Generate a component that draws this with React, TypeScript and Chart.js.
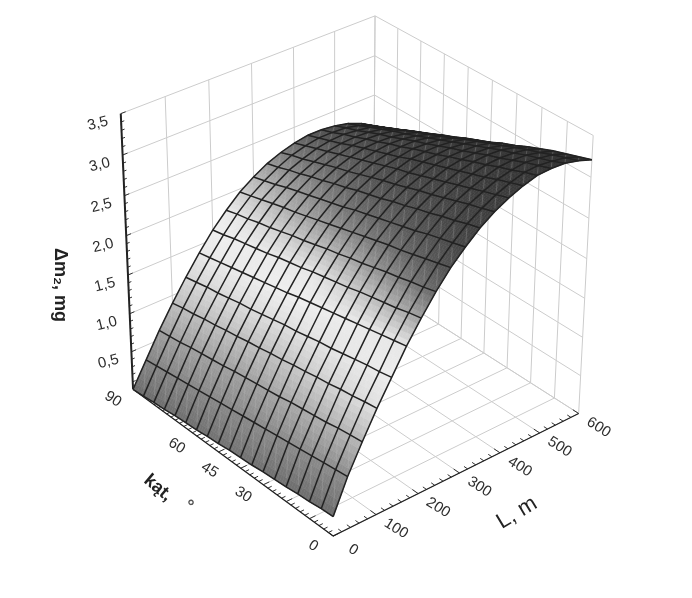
import React, { useEffect, useRef } from "react";
import { Chart, registerables } from "chart.js";

Chart.register(...registerables);

const lengths = [0, 33.3, 66.7, 100, 133.3, 166.7, 200, 233.3, 266.7, 300, 333.3, 366.7, 400, 433.3, 466.7, 500, 533.3, 566.7, 600];
const angles = [0, 5, 10, 15, 20, 25, 30, 35, 40, 45, 50, 55, 60, 65, 70, 75, 80, 85, 90];

// one row per length, one value per angle
const massGain = [
  [0.25, 0.24, 0.22, 0.21, 0.19, 0.18, 0.17, 0.15, 0.14, 0.13, 0.11, 0.10, 0.08, 0.07, 0.06, 0.04, 0.03, 0.01, 0],
  [0.67, 0.65, 0.63, 0.61, 0.59, 0.57, 0.55, 0.53, 0.51, 0.49, 0.47, 0.45, 0.43, 0.41, 0.39, 0.37, 0.35, 0.33, 0.31],
  [1.02, 1.00, 0.98, 0.95, 0.93, 0.91, 0.89, 0.86, 0.84, 0.82, 0.80, 0.78, 0.75, 0.73, 0.71, 0.69, 0.66, 0.64, 0.62],
  [1.35, 1.33, 1.30, 1.28, 1.25, 1.23, 1.20, 1.18, 1.15, 1.13, 1.10, 1.08, 1.05, 1.03, 1.00, 0.98, 0.95, 0.93, 0.90],
  [1.65, 1.62, 1.60, 1.57, 1.54, 1.51, 1.49, 1.46, 1.43, 1.41, 1.38, 1.35, 1.32, 1.30, 1.27, 1.24, 1.22, 1.19, 1.16],
  [1.95, 1.92, 1.89, 1.86, 1.83, 1.80, 1.77, 1.74, 1.71, 1.68, 1.64, 1.61, 1.58, 1.55, 1.52, 1.49, 1.46, 1.43, 1.40],
  [2.21, 2.18, 2.14, 2.11, 2.08, 2.05, 2.01, 1.98, 1.95, 1.92, 1.88, 1.85, 1.82, 1.78, 1.75, 1.72, 1.69, 1.65, 1.62],
  [2.45, 2.41, 2.38, 2.34, 2.31, 2.27, 2.23, 2.20, 2.16, 2.13, 2.09, 2.05, 2.02, 1.98, 1.94, 1.91, 1.87, 1.84, 1.80],
  [2.66, 2.62, 2.58, 2.54, 2.50, 2.47, 2.43, 2.39, 2.35, 2.31, 2.27, 2.23, 2.19, 2.15, 2.12, 2.08, 2.04, 2.00, 1.96],
  [2.83, 2.79, 2.75, 2.71, 2.66, 2.62, 2.58, 2.54, 2.50, 2.46, 2.41, 2.37, 2.33, 2.29, 2.25, 2.21, 2.16, 2.12, 2.08],
  [2.98, 2.94, 2.89, 2.85, 2.80, 2.76, 2.71, 2.67, 2.62, 2.58, 2.54, 2.49, 2.45, 2.40, 2.36, 2.31, 2.27, 2.22, 2.18],
  [3.10, 3.05, 3.01, 2.96, 2.91, 2.86, 2.82, 2.77, 2.72, 2.68, 2.63, 2.58, 2.53, 2.49, 2.44, 2.39, 2.34, 2.30, 2.25],
  [3.19, 3.14, 3.09, 3.04, 2.99, 2.94, 2.89, 2.84, 2.79, 2.75, 2.70, 2.65, 2.60, 2.55, 2.50, 2.45, 2.40, 2.35, 2.30],
  [3.26, 3.21, 3.16, 3.10, 3.05, 3.00, 2.95, 2.90, 2.85, 2.80, 2.74, 2.69, 2.64, 2.59, 2.54, 2.48, 2.43, 2.38, 2.33],
  [3.31, 3.26, 3.20, 3.15, 3.09, 3.04, 2.98, 2.93, 2.87, 2.82, 2.77, 2.71, 2.66, 2.60, 2.55, 2.49, 2.44, 2.38, 2.33],
  [3.32, 3.27, 3.22, 3.16, 3.10, 3.05, 2.99, 2.93, 2.88, 2.82, 2.76, 2.71, 2.65, 2.59, 2.54, 2.48, 2.42, 2.37, 2.31],
  [3.31, 3.25, 3.20, 3.15, 3.09, 3.04, 2.98, 2.92, 2.86, 2.80, 2.74, 2.68, 2.62, 2.56, 2.51, 2.45, 2.39, 2.33, 2.27],
  [3.27, 3.22, 3.17, 3.11, 3.06, 3.00, 2.94, 2.88, 2.82, 2.76, 2.69, 2.63, 2.57, 2.51, 2.45, 2.38, 2.32, 2.26, 2.20],
  [3.21, 3.16, 3.11, 3.06, 3.00, 2.94, 2.87, 2.81, 2.74, 2.68, 2.62, 2.55, 2.49, 2.42, 2.36, 2.29, 2.23, 2.16, 2.10],
];

const zTickLabels = ["0,5", "1,0", "1,5", "2,0", "2,5", "3,0", "3,5"];
const zTicks = [0.5, 1, 1.5, 2, 2.5, 3, 3.5];
const lTicks = [0, 100, 200, 300, 400, 500, 600];
const angleTickLabels = [90, 60, 45, 30, 0];
const angleGrid = [0, 10, 20, 30, 40, 50, 60, 70, 80, 90];

// surface brightness read per length row, at angle 0, 45 and 90
const shadeAt0 = [0.42, 0.55, 0.72, 0.88, 0.93, 0.9, 0.62, 0.4, 0.31, 0.27, 0.25, 0.24, 0.23, 0.22, 0.21, 0.2, 0.2, 0.2, 0.2];
const shadeAt45 = [0.45, 0.54, 0.63, 0.75, 0.87, 0.94, 0.9, 0.72, 0.54, 0.43, 0.36, 0.31, 0.28, 0.25, 0.24, 0.23, 0.22, 0.21, 0.2];
const shadeAt90 = [0.42, 0.52, 0.62, 0.74, 0.84, 0.91, 0.94, 0.92, 0.82, 0.72, 0.6, 0.5, 0.43, 0.35, 0.32, 0.28, 0.25, 0.22, 0.2];

// box corners as seen in the picture: [L/600, angle/90, z/3.5, px, py]
const boxCorners = [
  [0, 0, 0, 333, 537],
  [1, 0, 0, 579, 412],
  [0, 1, 0, 133, 388],
  [1, 1, 0, 373, 284],
  [0, 1, 1, 121, 114],
  [1, 1, 1, 375, 15],
  [1, 0, 1, 593, 136],
];

function solve(A: number[][], b: number[]): number[] {
  const n = b.length;
  const M = A.map((r, i) => [...r, b[i]]);
  for (let i = 0; i < n; i++) {
    let p = i;
    for (let r = i + 1; r < n; r++) if (Math.abs(M[r][i]) > Math.abs(M[p][i])) p = r;
    [M[i], M[p]] = [M[p], M[i]];
    for (let r = 0; r < n; r++) {
      if (r === i) continue;
      const f = M[r][i] / M[i][i];
      for (let c = i; c <= n; c++) M[r][c] -= f * M[i][c];
    }
  }
  return M.map((r, i) => r[n] / r[i]);
}

function fitCamera(): number[] {
  const rows: number[][] = [];
  const rhs: number[] = [];
  for (const [X, Y, Z, u, v] of boxCorners) {
    rows.push([X, Y, Z, 1, 0, 0, 0, 0, -u * X, -u * Y, -u * Z]);
    rhs.push(u);
    rows.push([0, 0, 0, 0, X, Y, Z, 1, -v * X, -v * Y, -v * Z]);
    rhs.push(v);
  }
  const N = Array.from({ length: 11 }, (_, i) =>
    Array.from({ length: 11 }, (_, j) => rows.reduce((s, r) => s + r[i] * r[j], 0)),
  );
  const t = Array.from({ length: 11 }, (_, i) => rows.reduce((s, r, k) => s + r[i] * rhs[k], 0));
  return solve(N, t);
}

const cam = fitCamera();

function project(L: number, angle: number, z: number) {
  const X = L / 600;
  const Y = angle / 90;
  const Z = z / 3.5;
  const w = cam[8] * X + cam[9] * Y + cam[10] * Z + 1;
  return {
    x: (cam[0] * X + cam[1] * Y + cam[2] * Z + cam[3]) / w,
    y: (cam[4] * X + cam[5] * Y + cam[6] * Z + cam[7]) / w,
  };
}

const GAP = { x: NaN, y: NaN };

function segs(list: [number, number, number, number, number, number][]) {
  const out: { x: number; y: number }[] = [];
  for (const [a, b, c, d, e, f] of list) out.push(project(a, b, c), project(d, e, f), GAP);
  return out;
}

function wallSegments() {
  const s: [number, number, number, number, number, number][] = [];
  for (const z of [0, ...zTicks]) {
    s.push([0, 90, z, 600, 90, z]);
    s.push([600, 0, z, 600, 90, z]);
  }
  for (const L of lTicks) {
    s.push([L, 90, 0, L, 90, 3.5]);
    s.push([L, 0, 0, L, 90, 0]);
  }
  for (const a of angleGrid) {
    s.push([600, a, 0, 600, a, 3.5]);
    s.push([0, a, 0, 600, a, 0]);
  }
  return segs(s);
}

function axisSegments() {
  const s: [number, number, number, number, number, number][] = [];
  for (let i = 0; i <= 30; i++) {
    const L = i * 20;
    s.push([L, 0, 0, L, i % 5 === 0 ? 2.4 : 1.5, 0]);
  }
  for (let i = 0; i <= 45; i++) {
    const a = i * 2;
    s.push([0, a, 0, i % 5 === 0 ? 14 : 9, a, 0]);
  }
  for (let i = 0; i <= 35; i++) {
    const z = i / 10;
    s.push([0, 90, z, i % 5 === 0 ? 11 : 7, 90, z]);
  }
  return segs(s);
}

function shadeOf(k: number, col: number) {
  const t = col / 18;
  return t < 0.5
    ? shadeAt0[k] + (shadeAt45[k] - shadeAt0[k]) * (t / 0.5)
    : shadeAt45[k] + (shadeAt90[k] - shadeAt45[k]) * ((t - 0.5) / 0.5);
}

const surfacePlugin = {
  id: "surface",
  drawn: false,
  beforeDatasetsDraw() {
    this.drawn = false;
  },
  beforeDatasetDraw(chart: any, args: any) {
    if (this.drawn || chart.data.datasets[args.index].label !== "mesh") return;
    this.drawn = true;
    const { ctx, scales } = chart;
    const px = (p: { x: number; y: number }) => [scales.x.getPixelForValue(p.x), scales.y.getPixelForValue(p.y)];
    const SUB = 5;
    ctx.save();
    ctx.lineWidth = 0.6;
    for (let k = 0; k < lengths.length - 1; k++) {
      for (let c = 0; c < angles.length - 1; c++) {
        const z00 = massGain[k][c], z01 = massGain[k][c + 1], z10 = massGain[k + 1][c], z11 = massGain[k + 1][c + 1];
        const s00 = shadeOf(k, c), s01 = shadeOf(k, c + 1), s10 = shadeOf(k + 1, c), s11 = shadeOf(k + 1, c + 1);
        const at = (i: number, j: number) => {
          const u = i / SUB, v = j / SUB;
          const z = (1 - u) * ((1 - v) * z00 + v * z01) + u * ((1 - v) * z10 + v * z11);
          return px(project(lengths[k] + u * (lengths[k + 1] - lengths[k]), angles[c] + v * (angles[c + 1] - angles[c]), z));
        };
        for (let i = 0; i < SUB; i++) {
          for (let j = 0; j < SUB; j++) {
            const u = (i + 0.5) / SUB, v = (j + 0.5) / SUB;
            const g = (1 - u) * ((1 - v) * s00 + v * s01) + u * ((1 - v) * s10 + v * s11);
            const col = Math.round(Math.min(1, g) * 255);
            const color = `rgb(${col},${col},${col})`;
            const a = at(i, j), b = at(i + 1, j), d = at(i + 1, j + 1), e = at(i, j + 1);
            ctx.beginPath();
            ctx.moveTo(a[0], a[1]);
            ctx.lineTo(b[0], b[1]);
            ctx.lineTo(d[0], d[1]);
            ctx.lineTo(e[0], e[1]);
            ctx.closePath();
            ctx.fillStyle = color;
            ctx.strokeStyle = color;
            ctx.fill();
            ctx.stroke();
          }
        }
        // faint triangulation seam inside each cell, stronger where the surface is dark
        const seamA = at(1, 1), seamB = at(4, 4);
        const mean = (s00 + s01 + s10 + s11) / 4;
        ctx.beginPath();
        ctx.moveTo(seamA[0], seamA[1]);
        ctx.lineTo(seamB[0], seamB[1]);
        ctx.strokeStyle = `rgba(255,255,255,${(0.06 + 0.32 * (1 - mean)).toFixed(2)})`;
        ctx.stroke();
      }
    }
    ctx.restore();
  },
  afterDatasetsDraw(chart: any) {
    const { ctx, scales } = chart;
    const put = (text: string, x: number, y: number, rot: number, font: string, color = "#2e2e2e") => {
      ctx.save();
      ctx.translate(scales.x.getPixelForValue(x), scales.y.getPixelForValue(y));
      ctx.rotate((rot * Math.PI) / 180);
      ctx.font = font;
      ctx.fillStyle = color;
      ctx.textAlign = "center";
      ctx.textBaseline = "middle";
      ctx.fillText(text, 0, 0);
      ctx.restore();
    };
    const tickFont = "15px 'Liberation Sans'";
    zTicks.forEach((z, i) => {
      const p = project(0, 90, z);
      put(zTickLabels[i], p.x - 23, p.y + 10, -14, tickFont);
    });
    lTicks.forEach((L) => {
      const p = project(L, 0, 0);
      put(String(L), p.x + 20, p.y + 14, 32, tickFont);
    });
    angleTickLabels.forEach((a) => {
      const p = project(0, a, 0);
      put(String(a), p.x - 20, p.y + 10, 32, tickFont);
    });
    put("kąt,", 158, 488, 40, "bold 18px 'Liberation Sans'", "#222");
    put("°", 188, 506, 40, "bold 18px 'Liberation Sans'", "#555");
    put("L, m", 517, 513, -31, "22px 'Liberation Sans'", "#222");
    put("Δm₂, mg", 60, 285, 90, "bold 18px 'Liberation Sans'", "#222");
  },
};

export default function App() {
  const ref = useRef<HTMLCanvasElement>(null);
  useEffect(() => {
    const rowLines = lengths.map((L, k) => ({
      label: "mesh",
      data: angles.map((a, c) => project(L, a, massGain[k][c])),
      order: 0,
    }));
    const colLines = angles.map((a, c) => ({
      label: "mesh",
      data: lengths.map((L, k) => project(L, a, massGain[k][c])),
      order: 0,
    }));
    const meshStyle = { showLine: true, borderColor: "#222222", borderWidth: 1.5, pointRadius: 0, tension: 0 };
    const chart = new Chart(ref.current!, {
      type: "scatter",
      data: {
        datasets: [
          ...[...rowLines, ...colLines].map((d) => ({ ...d, ...meshStyle })),
          {
            label: "z axis",
            data: [project(0, 90, 0), project(0, 90, 3.5)],
            showLine: true,
            borderColor: "#222",
            borderWidth: 2,
            pointRadius: 0,
            order: 1,
          },
          {
            label: "floor axes",
            data: [project(600, 0, 0), project(0, 0, 0), project(0, 90, 0)],
            showLine: true,
            borderColor: "#222",
            borderWidth: 1.3,
            pointRadius: 0,
            order: 1,
          },
          {
            label: "ticks",
            data: axisSegments(),
            showLine: true,
            spanGaps: false,
            borderColor: "#333",
            borderWidth: 1,
            pointRadius: 0,
            order: 1,
          },
          {
            label: "walls",
            data: wallSegments(),
            showLine: true,
            spanGaps: false,
            borderColor: "#cccccc",
            borderWidth: 1,
            pointRadius: 0,
            order: 2,
          },
        ],
      },
      options: {
        animation: false,
        responsive: false,
        layout: { padding: 0 },
        plugins: { legend: { display: false }, tooltip: { enabled: false } },
        scales: {
          x: { type: "linear", min: 0, max: 692, display: false },
          y: { type: "linear", min: 0, max: 598, reverse: true, display: false },
        },
      },
      plugins: [surfacePlugin as any],
    });
    return () => chart.destroy();
  }, []);
  return (
    <div style={{ position: "absolute", left: 0, top: 0, width: 692, height: 598, background: "#fff" }}>
      <canvas ref={ref} width={692} height={598} style={{ display: "block" }} />
    </div>
  );
}
